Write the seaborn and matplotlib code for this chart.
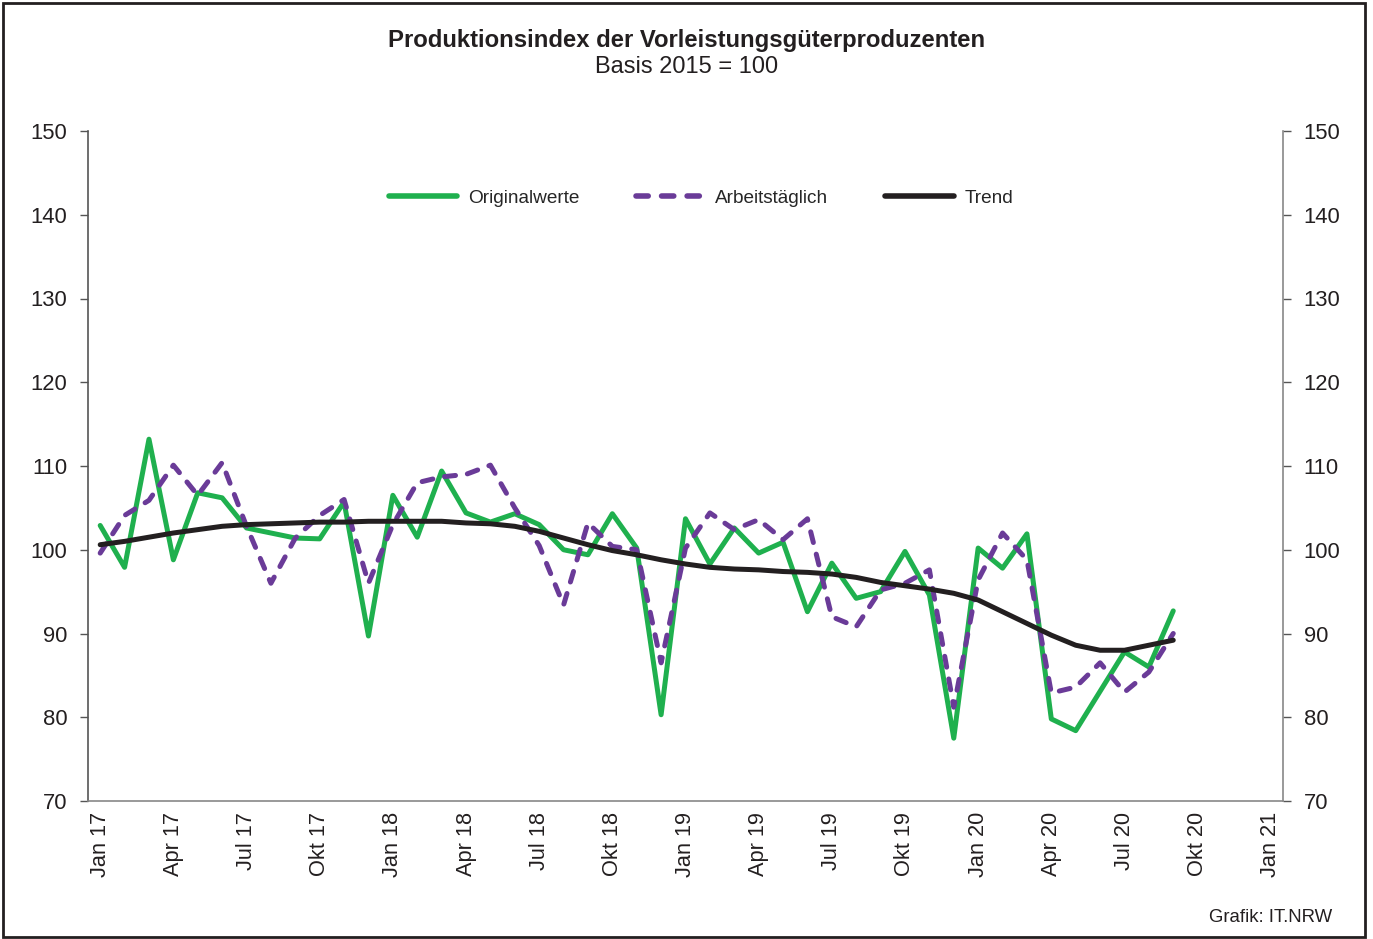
import pandas as pd
import seaborn as sns
import matplotlib.pyplot as plt
from matplotlib.patches import Rectangle

# monthly values Jan 17 .. Sep 20
original = [102.9, 97.9, 113.2, 98.8, 106.8, 106.2, 102.6, 102.0, 101.4, 101.3, 105.7, 89.7,
            106.5, 101.5, 109.4, 104.4, 103.3, 104.3, 103.0, 100.0, 99.4, 104.3, 100.2, 80.3,
            103.7, 98.3, 102.6, 99.6, 100.9, 92.6, 98.4, 94.2, 95.0, 99.8, 94.6, 77.5,
            100.2, 97.8, 101.9, 79.8, 78.4, 83.1, 87.8, 86.0, 92.7]
arbeitstaeglich = [99.6, 104.1, 105.9, 110.1, 106.5, 110.4, 102.8, 96.0, 101.4, 104.1, 106.0, 96.0,
                   103.0, 108.0, 108.7, 109.0, 110.1, 105.0, 100.5, 93.4, 103.2, 100.4, 100.0, 86.5,
                   100.2, 104.4, 102.4, 103.6, 101.2, 103.7, 92.0, 90.8, 95.2, 96.0, 97.6, 81.2,
                   96.4, 102.0, 98.8, 82.9, 83.6, 86.5, 83.0, 85.4, 90.0]
trend = [100.6, 101.0, 101.5, 102.0, 102.4, 102.8, 103.0, 103.1, 103.2, 103.3, 103.3, 103.4,
         103.4, 103.4, 103.4, 103.2, 103.1, 102.8, 102.2, 101.4, 100.6, 99.9, 99.4, 98.8,
         98.3, 97.9, 97.7, 97.6, 97.4, 97.3, 97.1, 96.7, 96.1, 95.7, 95.3, 94.8,
         94.0, 92.6, 91.2, 89.8, 88.6, 88.0, 88.0, 88.6, 89.2]
tick_labels = ["Jan 17", "Apr 17", "Jul 17", "Okt 17", "Jan 18", "Apr 18", "Jul 18", "Okt 18",
               "Jan 19", "Apr 19", "Jul 19", "Okt 19", "Jan 20", "Apr 20", "Jul 20", "Okt 20", "Jan 21"]

df = pd.DataFrame({
    "Monat": range(len(original)),
    "Originalwerte": original,
    "Arbeitstäglich": arbeitstaeglich,
    "Trend": trend,
})

sns.set_style("white")
plt.rcParams['font.family'] = ['Liberation Sans', 'DejaVu Sans']

fig = plt.figure(figsize=(13.73, 9.39), dpi=100)
ax = fig.add_axes([88 / 1373, 1 - 801 / 939, (1283 - 88) / 1373, 670 / 939])

green = "#1fb04e"
purple = "#6a3b98"
black = "#231f20"

sns.lineplot(data=df, x="Monat", y="Originalwerte", ax=ax, color=green, linewidth=3.6,
             label="Originalwerte")
sns.lineplot(data=df, x="Monat", y="Arbeitstäglich", ax=ax, color=purple, linewidth=3.6,
             label="Arbeitstäglich")
ax.lines[-1].set_dashes((2.2, 2.4))
ax.lines[-1].set_dash_capstyle("round")
sns.lineplot(data=df, x="Monat", y="Trend", ax=ax, color=black, linewidth=3.6, label="Trend")

ax.set_xlim(-0.5, 48.5)
ax.set_ylim(70, 150)
ax.set_xticks(range(0, 49, 3))
ax.set_xticklabels(tick_labels, rotation=90, fontsize=15.7, color="#231f20")
ax.set_yticks(range(70, 151, 10))
ax.set_xlabel("")
ax.set_ylabel("")
ax.tick_params(axis="x", length=0, pad=8)
ax.tick_params(axis="y", which="both", left=True, right=True, labelleft=True, labelright=True,
               direction="out", length=6, width=1, color="#555555", labelsize=15.8,
               labelcolor="#231f20", pad=9)

for side in ["left", "right", "bottom"]:
    ax.spines[side].set_visible(True)
ax.spines["top"].set_visible(False)
ax.spines["left"].set_color("#555555")
ax.spines["right"].set_color("#888888")
ax.spines["bottom"].set_color("#888888")
for side in ["left", "right", "bottom"]:
    ax.spines[side].set_linewidth(1.2)

leg = ax.legend(loc="center", bbox_to_anchor=(0.513, 0.9), ncol=3, frameon=False, fontsize=13.7,
                handlelength=3.6, columnspacing=3.0, handletextpad=0.55)
for line in leg.get_lines():
    line.set_linewidth(4)

fig.text(0.5, 1 - 40 / 939, "Produktionsindex der Vorleistungsgüterproduzenten", ha="center",
         va="center", fontsize=17.2, fontweight="bold", color="#231f20")
fig.text(0.5, 1 - 67 / 939, "Basis 2015 = 100", ha="center", va="center", fontsize=17,
         color="#231f20")
fig.text(1332 / 1373, 1 - 917 / 939, "Grafik: IT.NRW", ha="right", va="center", fontsize=13.4,
         color="#231f20")

fig.patches.append(Rectangle((3 / 1373, 2 / 939), 1362 / 1373, 934 / 939, transform=fig.transFigure,
                             fill=False, edgecolor="#231f20", linewidth=2))

fig.savefig("out.png", dpi=100)
